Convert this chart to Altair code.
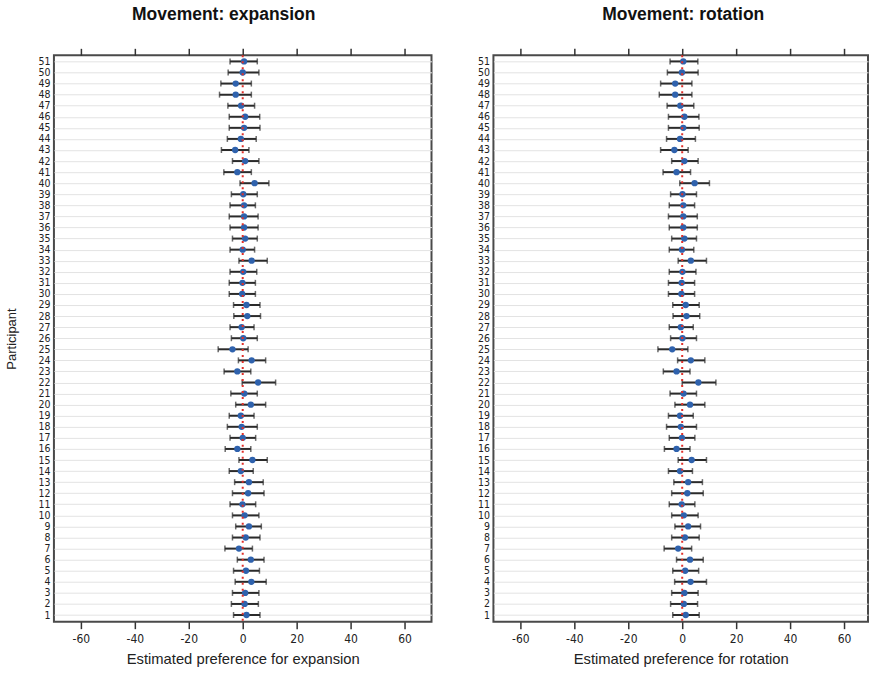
import altair as alt
import pandas as pd

participants = list(range(1, 52))

est_exp = [1.4, 0.7, 0.9, 3.2, 1.2, 3.0, -1.4, 1.1, 2.3, 0.7,
           -0.1, 2.0, 2.3, -0.7, 3.6, -2.0, 0.0, -0.4, -0.7, 3.0,
           0.6, 5.7, -2.0, 3.3, -3.8, 0.2, -0.4, 1.7, 1.4, -0.2,
           -0.1, 0.2, 3.3, 0.0, 0.9, 0.5, 0.5, 0.5, 0.2, 4.4,
           -2.0, 0.9, -2.8, -0.7, 0.5, 0.9, -0.6, -2.6, -2.6, 0.0, 0.5]
lo_exp = [-3.4, -4.2, -3.8, -2.8, -3.4, -2.0, -6.6, -3.8, -2.6, -3.8,
          -4.7, -3.8, -3.0, -5.0, -1.4, -6.5, -4.7, -5.7, -5.0, -2.6,
          -4.4, -0.2, -6.9, -1.6, -9.1, -4.2, -4.7, -3.3, -3.4, -5.0,
          -5.0, -4.7, -1.4, -4.7, -3.8, -4.7, -5.0, -4.7, -4.2, -1.0,
          -7.0, -3.8, -7.9, -5.7, -5.0, -5.0, -5.5, -8.6, -8.1, -5.4, -4.7]
hi_exp = [6.4, 5.8, 6.0, 8.7, 6.2, 7.9, 3.6, 6.4, 6.9, 6.0,
          4.8, 7.9, 7.6, 3.9, 9.1, 3.0, 4.8, 5.4, 4.2, 8.5,
          5.4, 12.2, 3.0, 8.5, 2.0, 5.4, 4.2, 6.6, 6.4, 4.7,
          4.7, 5.2, 9.1, 4.4, 5.4, 5.7, 5.7, 4.7, 5.4, 9.7,
          3.2, 6.0, 2.3, 5.0, 6.4, 6.3, 4.4, 3.2, 3.2, 6.0, 5.4]

est_rot = [1.3, 0.6, 0.8, 3.1, 1.1, 2.9, -1.5, 1.0, 2.2, 0.6,
           -0.2, 1.9, 2.2, -0.8, 3.5, -2.1, -0.1, -0.5, -0.8, 2.9,
           0.5, 6.0, -2.1, 3.2, -3.7, 0.1, -0.5, 1.6, 1.3, -0.3,
           -0.2, 0.1, 3.2, -0.1, 0.8, 0.4, 0.4, 0.4, 0.1, 4.6,
           -2.1, 0.8, -2.9, -0.8, 0.4, 0.8, -0.7, -2.6, -2.6, -0.1, 0.4]
lo_rot = [-3.5, -4.3, -3.9, -2.8, -3.5, -2.1, -6.7, -3.9, -2.7, -3.9,
          -4.8, -3.9, -3.1, -5.1, -1.5, -6.6, -4.8, -5.8, -5.1, -2.7,
          -4.5, 0.0, -7.0, -1.7, -9.0, -4.3, -4.8, -3.4, -3.5, -5.1,
          -5.1, -4.8, -1.5, -4.8, -3.9, -4.8, -5.1, -4.8, -4.3, -0.9,
          -7.1, -3.9, -8.0, -5.8, -5.1, -5.1, -5.6, -8.5, -8.0, -5.5, -4.5]
hi_rot = [6.3, 5.7, 5.9, 9.0, 6.1, 7.8, 3.5, 6.3, 6.8, 5.9,
          4.7, 7.8, 7.5, 3.8, 9.0, 2.9, 4.7, 5.3, 4.1, 8.4,
          5.3, 12.5, 2.9, 8.4, 2.1, 5.3, 4.1, 6.5, 6.3, 4.6,
          4.6, 5.1, 9.0, 4.3, 5.3, 5.6, 5.6, 4.6, 5.3, 10.1,
          3.1, 5.9, 2.2, 4.9, 6.3, 6.2, 4.3, 3.6, 3.6, 5.9, 5.8]

x_ticks = [-60, -40, -20, 0, 20, 40, 60]

NARROW = "Liberation Sans Narrow, DejaVu Sans Condensed, Arial Narrow, sans-serif"
SANS = "Liberation Sans, Arial, sans-serif"
LABEL_EXPR = "datum.value < 0 ? '-' + abs(datum.value) : '' + datum.value"


def panel(est, lo, hi, title, xtitle, ytitle, dx, width, xmax):
    df = pd.DataFrame({"participant": participants, "est": est, "lo": lo, "hi": hi})
    zero_df = pd.DataFrame({"x": [0]})
    xscale = alt.Scale(domain=[-70, xmax], nice=False, zero=False)
    yscale = alt.Scale(domain=[0.4, 51.55], nice=False, zero=False)

    bottom_axis = alt.Axis(values=x_ticks, orient="bottom", grid=False, domain=False,
                           tickColor="#333333", tickSize=7, tickWidth=1.5,
                           labelFont=NARROW, labelFontSize=12, labelColor="#222222",
                           labelExpr=LABEL_EXPR,
                           labelPadding=5, title=xtitle, titleFont=SANS,
                           titleFontSize=14.8, titleFontWeight="normal",
                           titleColor="#222222", titlePadding=7)
    top_axis = alt.Axis(values=x_ticks, orient="top", grid=False, domain=False,
                        tickColor="#333333", tickSize=7, tickWidth=1.5,
                        labels=False, title=None)
    yaxis = alt.Axis(values=participants, grid=True, gridColor="#e3e3e3", gridWidth=1,
                     ticks=False, domain=False, labelFont=NARROW, labelFontSize=10.5,
                     labelColor="#222222", labelPadding=4, labelOverlap=False,
                     labelBound=False, labelFlush=False,
                     title=ytitle, titleFont=SANS, titleFontSize=13,
                     titleFontWeight="normal", titleColor="#222222", titlePadding=19)
    y_enc = alt.Y("participant:Q", scale=yscale, axis=yaxis)

    base = alt.Chart(df)
    bars = base.mark_rule(color="#2b2b2b", strokeWidth=2).encode(
        x=alt.X("lo:Q", scale=xscale, axis=bottom_axis),
        x2="hi:Q",
        y=y_enc,
    )
    cap_lo = base.mark_tick(color="#2b2b2b", orient="vertical", size=6, thickness=1.5).encode(
        x=alt.X("lo:Q", scale=xscale, axis=None),
        y=y_enc,
    )
    cap_hi = base.mark_tick(color="#2b2b2b", orient="vertical", size=6, thickness=1.5).encode(
        x=alt.X("hi:Q", scale=xscale, axis=None),
        y=y_enc,
    )
    pts = base.mark_circle(color="#2f62ad", opacity=1, size=40).encode(
        x=alt.X("est:Q", scale=xscale, axis=None),
        y=y_enc,
    )
    zero = alt.Chart(zero_df).mark_rule(color="#e0302a", strokeWidth=2, strokeDash=[2, 4]).encode(
        x=alt.X("x:Q", scale=xscale, axis=top_axis),
    )
    return alt.layer(bars, cap_lo, cap_hi, pts, zero).resolve_axis(x="independent").properties(
        width=width, height=567,
        title=alt.TitleParams(title, font=SANS, fontSize=17.5, fontWeight="bold",
                              color="#111111", anchor="middle", dx=dx, offset=24),
    )


left = panel(est_exp, lo_exp, hi_exp, "Movement: expansion",
             "Estimated preference for expansion", "Participant", -19, 378, 70)
right = panel(est_rot, lo_rot, hi_rot, "Movement: rotation",
              "Estimated preference for rotation", None, 2.5, 375, 68.9)

chart = alt.hconcat(left, right, spacing=43).configure_view(
    stroke="#4a4a4a", strokeWidth=2
).properties(
    padding={"left": 4, "top": 4, "right": 0, "bottom": 0},
    background="white",
)

chart.save("out.html", embed_options={"renderer": "svg", "actions": False})
